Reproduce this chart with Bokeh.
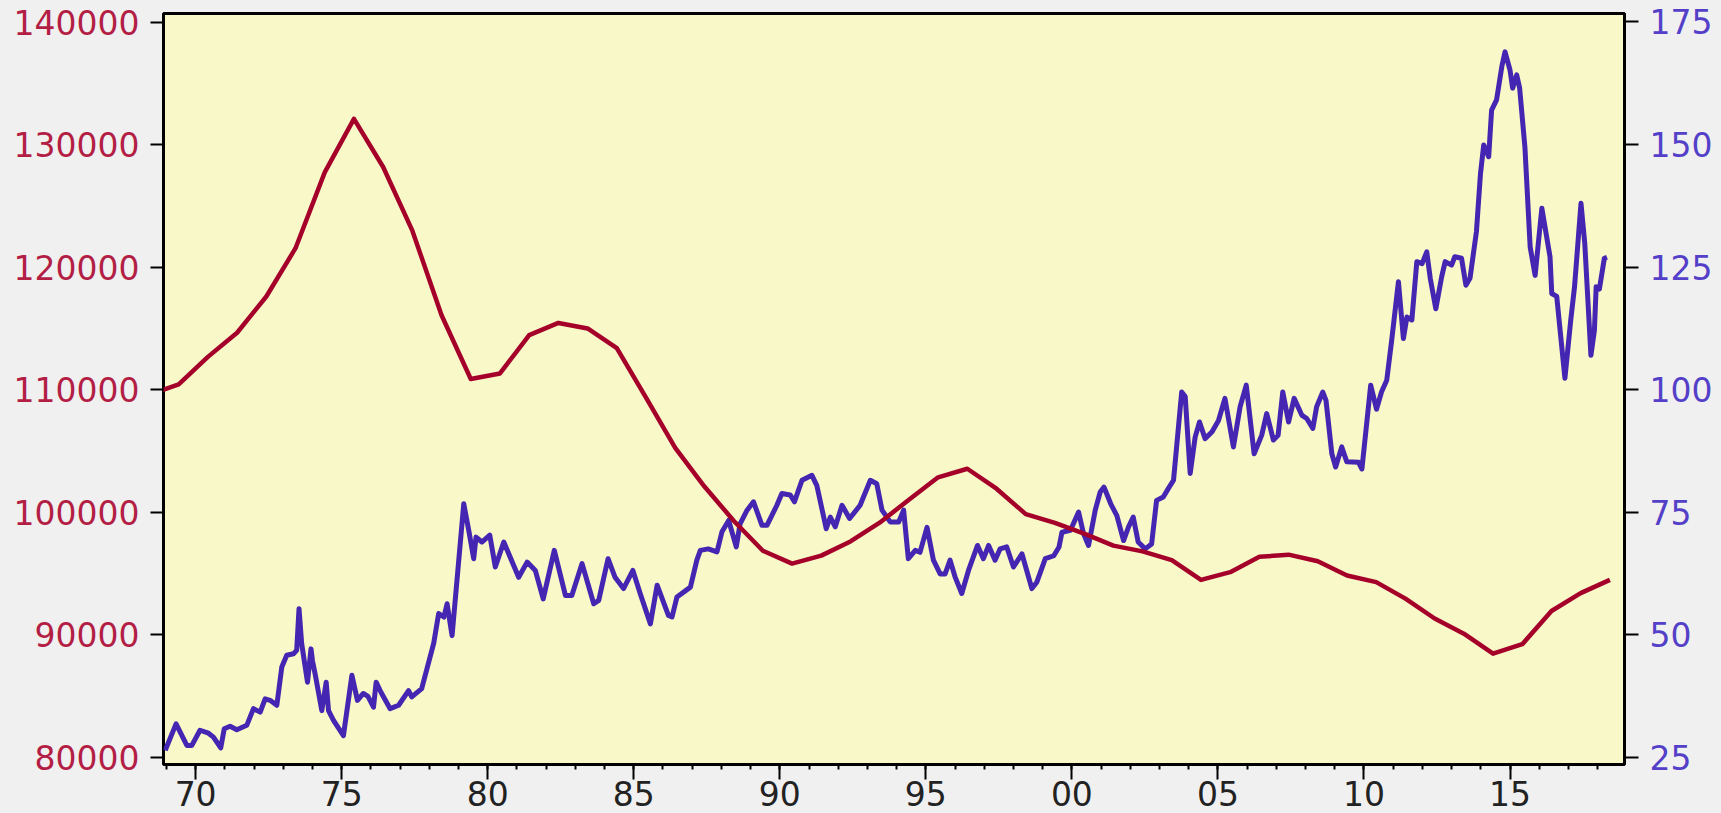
from bokeh.plotting import figure
from bokeh.models import Range1d, LinearAxis, FixedTicker, BasicTickFormatter, ColumnDataSource
from bokeh.embed import file_html
from bokeh.resources import INLINE

# ---- data ----
# red series (left axis), annual values
red_years = list(range(1968, 2019))
red_values = [109600, 110430, 112670, 114640, 117600, 121540, 127730, 132100, 128170, 122970,
              116070, 110870, 111320, 114450, 115440, 114990, 113380, 109350, 105250, 102090,
              99300, 96850, 95800, 96450, 97610, 99140, 101010, 102840, 103540, 101910,
              99840, 99130, 98240, 97270, 96800, 96080, 94470, 95100, 96350, 96530,
              95990, 94830, 94290, 92940, 91320, 90080, 88450, 89220, 91930, 93390, 94470]

# blue series (right axis), sub-annual readings (decimal year, value)
blue_t = [1968.96, 1969.33, 1969.70, 1969.87, 1970.15, 1970.44, 1970.61, 1970.86, 1970.98, 1971.18,
          1971.41, 1971.75, 1971.98, 1972.21, 1972.38, 1972.55, 1972.78, 1972.95, 1973.12, 1973.35,
          1973.46, 1973.54, 1973.63, 1973.83, 1973.95, 1974.00, 1974.10, 1974.32, 1974.47, 1974.55,
          1974.72, 1975.06, 1975.35, 1975.54, 1975.74, 1975.90, 1976.09, 1976.18, 1976.35, 1976.66,
          1976.95, 1977.29, 1977.40, 1977.74, 1978.15, 1978.32, 1978.50, 1978.61, 1978.78, 1979.18,
          1979.35, 1979.52, 1979.60, 1979.80, 1980.07, 1980.26, 1980.55, 1981.06, 1981.35, 1981.63,
          1981.90, 1982.28, 1982.66, 1982.88, 1983.23, 1983.63, 1983.80, 1984.12, 1984.36, 1984.65,
          1984.97, 1985.22, 1985.57, 1985.80, 1986.19, 1986.31, 1986.48, 1986.94, 1987.16, 1987.28,
          1987.55, 1987.85, 1988.02, 1988.25, 1988.51, 1988.64, 1988.88, 1989.10, 1989.39, 1989.56,
          1989.90, 1990.07, 1990.36, 1990.50, 1990.76, 1991.10, 1991.27, 1991.59, 1991.73, 1991.90,
          1992.13, 1992.39, 1992.75, 1993.10, 1993.32, 1993.50, 1993.78, 1994.07, 1994.24, 1994.40,
          1994.64, 1994.80, 1995.04, 1995.26, 1995.49, 1995.66, 1995.83, 1996.00, 1996.23, 1996.46,
          1996.77, 1996.97, 1997.15, 1997.37, 1997.54, 1997.77, 1998.00, 1998.29, 1998.63, 1998.80,
          1999.09, 1999.38, 1999.56, 1999.66, 1999.95, 2000.23, 2000.40, 2000.57, 2000.80, 2000.97,
          2001.10, 2001.33, 2001.54, 2001.77, 2001.94, 2002.10, 2002.27, 2002.51, 2002.73, 2002.90,
          2003.13, 2003.30, 2003.48, 2003.76, 2003.88, 2004.05, 2004.22, 2004.37, 2004.56, 2004.80,
          2005.02, 2005.24, 2005.53, 2005.76, 2005.97, 2006.24, 2006.50, 2006.67, 2006.90, 2007.06,
          2007.22, 2007.42, 2007.61, 2007.87, 2008.04, 2008.25, 2008.38, 2008.59, 2008.70, 2008.90,
          2009.03, 2009.24, 2009.41, 2009.81, 2009.93, 2010.23, 2010.43, 2010.60, 2010.78, 2010.95,
          2011.18, 2011.35, 2011.47, 2011.64, 2011.81, 2011.99, 2012.15, 2012.27, 2012.46, 2012.66,
          2012.78, 2013.00, 2013.11, 2013.34, 2013.49, 2013.63, 2013.85, 2013.99, 2014.10, 2014.27,
          2014.37, 2014.54, 2014.72, 2014.83, 2015.00, 2015.09, 2015.23, 2015.33, 2015.51, 2015.69,
          2015.86, 2016.09, 2016.37, 2016.43, 2016.60, 2016.88, 2017.08, 2017.21, 2017.43, 2017.56,
          2017.77, 2017.89, 2017.95, 2018.06, 2018.23, 2018.32]
blue_v = [26.4, 31.8, 27.4, 27.4, 30.5, 29.9, 29.1, 26.9, 30.8, 31.3,
          30.6, 31.5, 34.9, 34.2, 36.9, 36.6, 35.6, 43.4, 45.8, 46.1,
          46.8, 55.3, 48.2, 40.3, 47.1, 44.7, 41.7, 34.5, 40.3, 34.5,
          32.5, 29.4, 41.7, 36.6, 38.0, 37.4, 35.2, 40.3, 38.2, 34.9,
          35.6, 38.6, 37.3, 39.0, 48.2, 54.3, 53.6, 56.3, 49.8, 76.7,
          71.3, 65.5, 69.9, 68.9, 70.3, 63.8, 68.9, 61.7, 64.8, 63.1,
          57.3, 67.2, 58.0, 58.0, 64.5, 56.3, 57.0, 65.5, 61.7, 59.4,
          63.1, 58.4, 52.2, 60.1, 53.9, 53.6, 57.7, 59.7, 65.2, 67.2,
          67.5, 66.9, 71.0, 73.3, 67.9, 72.6, 75.4, 77.1, 72.3, 72.3,
          76.4, 78.8, 78.5, 77.1, 81.5, 82.5, 80.4, 71.6, 74.0, 72.0,
          76.4, 73.7, 76.4, 81.5, 80.8, 75.4, 73.0, 73.0, 75.4, 65.5,
          67.2, 66.8, 71.9, 65.2, 62.4, 62.4, 65.2, 61.8, 58.4, 63.1,
          68.2, 65.5, 68.2, 65.2, 67.5, 67.9, 63.8, 66.5, 59.4, 60.7,
          65.5, 66.1, 67.9, 70.9, 71.3, 75.0, 70.6, 68.2, 75.4, 79.1,
          80.1, 76.7, 74.3, 69.2, 72.0, 74.0, 68.9, 67.5, 68.5, 77.4,
          78.1, 79.8, 81.5, 99.5, 98.6, 82.9, 90.3, 93.4, 90.0, 91.4,
          93.7, 98.2, 88.3, 96.5, 100.9, 86.9, 90.7, 95.1, 89.7, 90.7,
          99.5, 93.4, 98.2, 94.8, 94.1, 92.1, 96.5, 99.5, 97.8, 86.9,
          84.2, 88.3, 85.3, 85.2, 83.8, 100.9, 96.0, 99.5, 101.9, 110.1,
          122.0, 110.4, 114.8, 114.2, 126.1, 125.7, 128.1, 122.7, 116.5, 123.0,
          126.1, 125.4, 127.1, 126.8, 121.3, 122.7, 132.2, 144.1, 149.9, 147.5,
          157.0, 159.1, 165.9, 168.9, 165.2, 161.5, 164.2, 161.5, 149.5, 129.1,
          123.3, 137.0, 127.1, 119.6, 119.0, 102.3, 114.2, 121.0, 138.0, 129.8,
          107.0, 112.1, 121.0, 120.5, 126.8, 127.0]

x_major = [1970, 1975, 1980, 1985, 1990, 1995, 2000, 2005, 2010, 2015]
x_labels = ["70", "75", "80", "85", "90", "95", "00", "05", "10", "15"]
x_minor = list(range(1969, 2020))
left_ticks = [80000, 90000, 100000, 110000, 120000, 130000, 140000]
right_ticks = [25, 50, 75, 100, 125, 150, 175]

RED = "#A5002A"
BLUE = "#4326B2"
RED_LBL = "#B31E45"
BLUE_LBL = "#5440C8"
FONT = "DejaVu Sans"
FSIZE = "33px"

p = figure(width=1721, height=813, output_backend="svg", toolbar_location=None,
           x_range=Range1d(1968.9, 2018.92), y_range=Range1d(79404, 140694),
           min_border_left=163, min_border_right=97, min_border_top=13, min_border_bottom=49)
p.extra_y_ranges = {"right": Range1d(23.51, 176.73)}

p.background_fill_color = "#F8F8C8"
p.border_fill_color = "#F0F0F0"
p.outline_line_color = "black"
p.outline_line_width = 3
p.grid.visible = False

# bottom axis
xa = p.xaxis[0]
xa.ticker = FixedTicker(ticks=x_major, minor_ticks=x_minor)
xa.major_label_overrides = {t: l for t, l in zip(x_major, x_labels)}
xa.axis_line_color = None
xa.major_tick_line_color = "black"
xa.major_tick_line_width = 2
xa.major_tick_out = 15
xa.major_tick_in = 0
xa.minor_tick_line_color = "black"
xa.minor_tick_line_width = 2
xa.minor_tick_out = 5
xa.minor_tick_in = 0
xa.major_label_standoff = 1
xa.major_label_text_font = FONT
xa.major_label_text_font_size = FSIZE
xa.major_label_text_color = "#222222"

# left axis
ya = p.yaxis[0]
ya.ticker = FixedTicker(ticks=left_ticks)
ya.formatter = BasicTickFormatter(use_scientific=False)
ya.axis_line_color = None
ya.major_tick_line_color = "black"
ya.major_tick_line_width = 2
ya.major_tick_out = 13
ya.major_tick_in = 0
ya.minor_tick_line_color = None
ya.major_label_standoff = 11
ya.major_label_text_font = FONT
ya.major_label_text_font_size = FSIZE
ya.major_label_text_color = RED_LBL

# right axis
ra = LinearAxis(y_range_name="right", ticker=FixedTicker(ticks=right_ticks))
ra.axis_line_color = None
ra.major_tick_line_color = "black"
ra.major_tick_line_width = 2
ra.major_tick_out = 14
ra.major_tick_in = 0
ra.minor_tick_line_color = None
ra.major_label_standoff = 11
ra.major_label_text_font = FONT
ra.major_label_text_font_size = FSIZE
ra.major_label_text_color = BLUE_LBL
p.add_layout(ra, "right")

blue_src = ColumnDataSource(dict(t=blue_t, v=blue_v))
red_src = ColumnDataSource(dict(t=[y + 0.42 for y in red_years], v=red_values))

p.line("t", "v", source=blue_src, y_range_name="right", line_color=BLUE, line_width=5,
       line_join="round")
p.line("t", "v", source=red_src, line_color=RED, line_width=4.5, line_join="round")

html = file_html(p, INLINE)
html = html.replace("<head>", "<head><style>html,body{background:#F0F0F0;}</style>", 1)
open("out.html", "w").write(html)
